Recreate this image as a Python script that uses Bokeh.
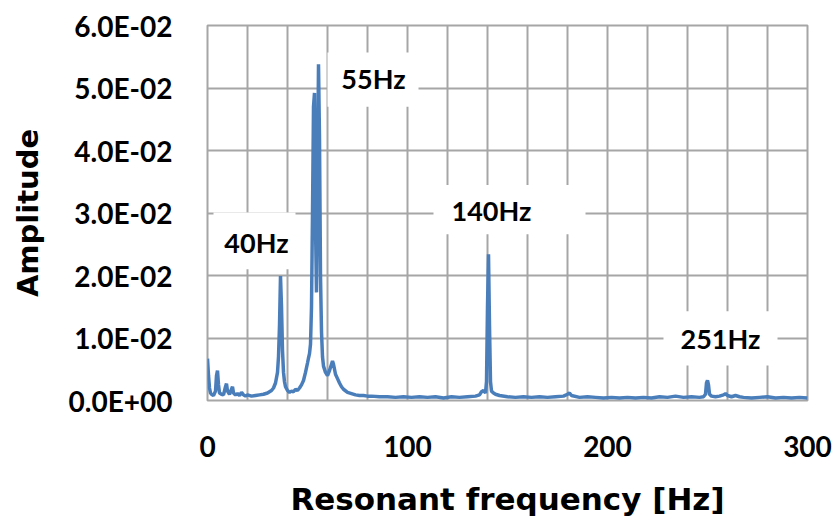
from bokeh.plotting import figure
from bokeh.models import FixedTicker, Range1d, Label
from bokeh.embed import file_html
from bokeh.resources import INLINE

# ---- data ----
freq = [0, 0.5, 1, 1.5, 2, 3, 4, 4.5, 5, 5.5, 6, 7, 8, 9, 9.5, 10, 11, 12, 12.5, 13,
        14, 15, 16, 17, 18, 19, 20, 22, 24, 26, 28, 30, 32, 33, 34, 35, 35.5, 36, 36.5, 37,
        37.5, 38, 38.5, 39, 40, 41, 42, 43, 44, 45, 46, 47, 48, 49, 50, 50.5, 51, 51.5, 52, 52.5,
        53, 53.5, 54, 54.5, 55, 55.5, 56, 56.5, 57, 57.5, 58, 59, 60, 61, 62, 62.5, 63, 63.5, 64, 65,
        66, 67, 68, 70, 72, 74, 76, 78, 80, 82, 86, 90, 94, 98, 102, 106, 110, 114, 118, 122,
        126, 130, 134, 136, 137, 138, 139, 139.5, 140, 140.5, 141, 141.5, 142, 143, 144, 146, 150, 154, 158, 162,
        166, 170, 174, 178, 180, 181, 182, 186, 190, 194, 198, 202, 206, 210, 214, 218, 222, 226, 230, 234,
        238, 242, 246, 248, 249, 249.5, 250, 250.5, 251, 252, 254, 256, 258, 259, 260, 262, 264, 266, 268, 272,
        276, 280, 284, 288, 292, 296, 300]
amp = [0.0067, 0.0040, 0.0020, 0.0012, 0.0010, 0.0008, 0.0015, 0.0040, 0.0048, 0.0025, 0.0012, 0.0010, 0.0009, 0.0022, 0.0027, 0.0015, 0.0010, 0.0018, 0.0022, 0.0012,
       0.0009, 0.0011, 0.0008, 0.0013, 0.0009, 0.0007, 0.0009, 0.0007, 0.0008, 0.0009, 0.0010, 0.0012, 0.0016, 0.0020, 0.0028, 0.0045, 0.0070, 0.0120, 0.0199, 0.0150,
       0.0080, 0.0045, 0.0030, 0.0022, 0.0016, 0.0013, 0.0015, 0.0014, 0.0018, 0.0016, 0.0020, 0.0025, 0.0032, 0.0045, 0.0060, 0.0068, 0.0075, 0.0090, 0.0150, 0.0300,
       0.0470, 0.0492, 0.0280, 0.0173, 0.0350, 0.0538, 0.0420, 0.0200, 0.0110, 0.0070, 0.0055, 0.0045, 0.0040, 0.0048, 0.0058, 0.0063, 0.0058, 0.0050, 0.0042, 0.0035,
       0.0028, 0.0022, 0.0018, 0.0013, 0.0011, 0.0009, 0.0008, 0.0008, 0.0007, 0.0007, 0.0006, 0.0006, 0.0005, 0.0006, 0.0005, 0.0006, 0.0005, 0.0006, 0.0004, 0.0006,
       0.0005, 0.0006, 0.0007, 0.0009, 0.0014, 0.0016, 0.0012, 0.0030, 0.0150, 0.0234, 0.0120, 0.0030, 0.0015, 0.0012, 0.0010, 0.0008, 0.0006, 0.0005, 0.0006, 0.0005,
       0.0006, 0.0005, 0.0006, 0.0007, 0.0010, 0.0012, 0.0008, 0.0005, 0.0006, 0.0005, 0.0004, 0.0005, 0.0004, 0.0005, 0.0004, 0.0005, 0.0004, 0.0006, 0.0005, 0.0007,
       0.0005, 0.0006, 0.0005, 0.0006, 0.0010, 0.0028, 0.0032, 0.0025, 0.0010, 0.0007, 0.0006, 0.0007, 0.0009, 0.0011, 0.0008, 0.0006, 0.0008, 0.0006, 0.0005, 0.0004,
       0.0005, 0.0006, 0.0004, 0.0005, 0.0004, 0.0005, 0.0004]

x_ticks = [0, 100, 200, 300]
y_ticks = [0.0, 0.01, 0.02, 0.03, 0.04, 0.05, 0.06]
y_tick_labels = ["0.0E+00", "1.0E-02", "2.0E-02", "3.0E-02", "4.0E-02", "5.0E-02", "6.0E-02"]
peak_labels = ["40Hz", "55Hz", "140Hz", "251Hz"]
x_title = "Resonant frequency [Hz]"
y_title = "Amplitude"

FONT = "Lato"
TFONT = "DejaVu Sans"
BLUE = "#4A7EBB"
GRID = "#a6a6a6"

p = figure(width=833, height=519, output_backend="svg", toolbar_location=None,
           x_range=Range1d(0, 300), y_range=Range1d(0, 0.06),
           min_border_left=207, min_border_right=26, min_border_top=25, min_border_bottom=117)

p.outline_line_color = GRID
p.outline_line_width = 2
p.background_fill_color = "white"
p.border_fill_color = "white"

# grid
p.xgrid.ticker = FixedTicker(ticks=list(range(0, 301, 20)))
p.ygrid.ticker = FixedTicker(ticks=y_ticks)
for g in (p.xgrid, p.ygrid):
    g.grid_line_color = GRID
    g.grid_line_width = 2

# axes
p.xaxis.ticker = FixedTicker(ticks=x_ticks)
p.yaxis.ticker = FixedTicker(ticks=y_ticks)
p.yaxis.major_label_overrides = {t: s for t, s in zip(y_ticks, y_tick_labels)}
for ax in (p.xaxis, p.yaxis):
    ax.axis_line_color = None
    ax.major_tick_line_color = None
    ax.minor_tick_line_color = None
    ax.major_tick_out = 0
    ax.major_tick_in = 0
    ax.major_label_text_font = FONT
    ax.major_label_text_font_style = "bold"
    ax.major_label_text_font_size = "28px"
    ax.major_label_text_color = "black"
    ax.axis_label_text_font = TFONT
    ax.axis_label_text_font_style = "bold"
    ax.axis_label_text_color = "black"
p.xaxis.axis_label = x_title
p.yaxis.axis_label = y_title
p.xaxis.axis_label_text_font_size = "31px"
p.yaxis.axis_label_text_font_size = "29px"
p.yaxis.major_label_standoff = 35
p.yaxis.axis_label_standoff = 21
p.xaxis.major_label_standoff = 35
p.xaxis.axis_label_standoff = 21

# label boxes (white, hide grid)
box_left = [3, 60, 113, 228]
box_right = [44, 105.5, 189, 285]
box_bottom = [0.0210, 0.0470, 0.0266, 0.0056]
box_top = [0.0301, 0.0557, 0.0345, 0.0143]
p.quad(left=box_left, right=box_right, bottom=box_bottom, top=box_top,
       fill_color="white", line_color=None)

# spectrum
p.line(freq, amp, line_color=BLUE, line_width=3.5)

# peak labels
lab_x = [24.5, 83, 142, 256.5]
lab_y = [0.0253, 0.0516, 0.0304, 0.0099]
for t, x, y in zip(peak_labels, lab_x, lab_y):
    p.add_layout(Label(x=x, y=y, text=t, text_align="center", text_baseline="middle",
                       text_font=FONT, text_font_style="bold", text_font_size="27px",
                       text_color="black"))

open("out.html", "w").write(file_html(p, INLINE))
